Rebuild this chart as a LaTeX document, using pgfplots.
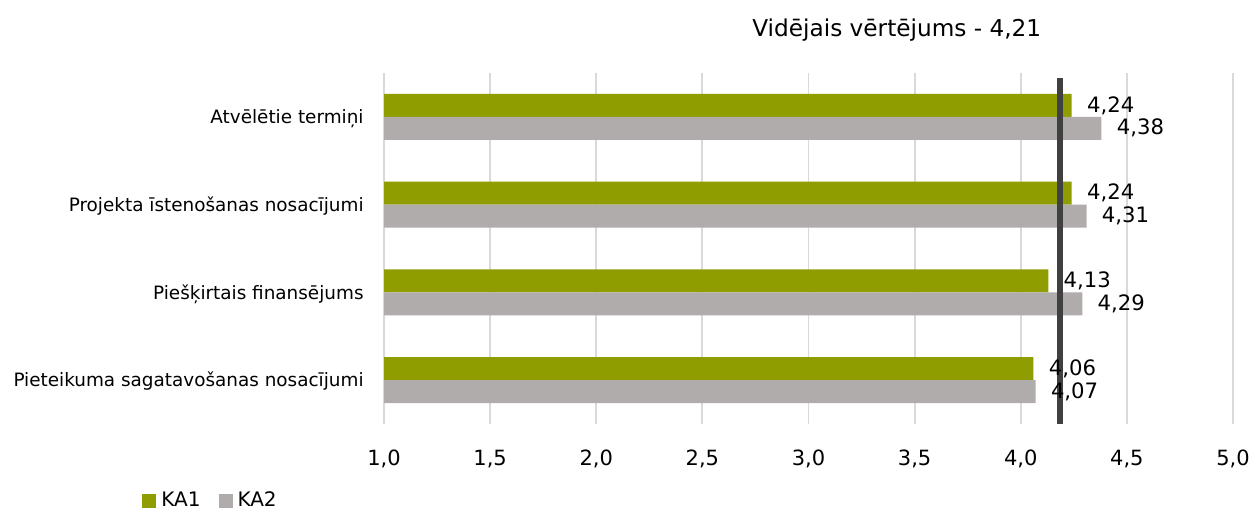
\documentclass[border=0pt]{standalone}
\usepackage{fontspec}
\setmainfont{DejaVu Sans}
\usepackage{pgfplots}
\pgfplotsset{compat=1.18}
\definecolor{kaone}{RGB}{143,157,0}
\definecolor{katwo}{RGB}{176,172,171}
\definecolor{avgline}{RGB}{64,64,64}
\definecolor{gridc}{RGB}{217,217,217}
\pgfplotsset{
  mybar/.style={
    xbar, draw=none, bar width=0.2614,
    point meta=x,
    nodes near coords={\pgfmathprintnumber[fixed,fixed zerofill,precision=2,use comma]{\pgfplotspointmeta}},
    nodes near coords style={font=\fontsize{10.6bp}{12bp}\selectfont, anchor=west, inner sep=0pt, xshift=7.5bp, yshift=#1, black},
  }
}
\begin{document}
\begin{tikzpicture}
\path[use as bounding box] (0,0) rectangle (625bp,256bp);
\begin{axis}[
  at={(192bp,44bp)}, anchor=south west,
  scale only axis, width=424.5bp, height=175.5bp,
  xmin=1, xmax=5, ymin=-0.5, ymax=3.5,
  axis line style={draw=none},
  major tick length=0pt,
  xtick={1,1.5,2,2.5,3,3.5,4,4.5,5},
  ytick={0,1,2,3},
  yticklabels={Pieteikuma sagatavošanas nosacījumi, Piešķirtais finansējums, Projekta īstenošanas nosacījumi, Atvēlētie termiņi},
  xmajorgrids, grid style={gridc, line width=0.9bp},
  scaled x ticks=false,
  /pgf/number format/assume math mode=true,
  xticklabel style={font=\fontsize{10.5bp}{12bp}\selectfont, anchor=base, yshift=-20.5bp, /pgf/number format/.cd, fixed, fixed zerofill, precision=1, use comma},
  yticklabel style={font=\fontsize{9.2bp}{11bp}\selectfont, anchor=base east, inner sep=0pt, xshift=-10bp, yshift=-3.35bp},
  title={Vidējais vērtējums - 4,21},
  title style={at={(0.604,1.1026)}, anchor=base, yshift=-6pt, font=\fontsize{11.6bp}{14bp}\selectfont, inner sep=0pt},
  legend style={at={(-0.2055,-0.219)}, anchor=center, draw=none, fill=none, legend columns=2,
    font=\fontsize{10bp}{12bp}\selectfont, inner sep=0pt,
    /tikz/every odd column/.append style={column sep=2.5bp},
    /tikz/every even column/.append style={column sep=9bp},
    nodes={inner sep=0pt}},
  legend image code/.code={\fill[#1] (0bp,-3.5bp) rectangle (7bp,3.5bp);},
]
\addplot[mybar=5.73bp, fill=kaone, bar shift=0.1307] coordinates {(4.06,0) (4.13,1) (4.24,2) (4.24,3)};
\addplot[mybar=-5.73bp, fill=katwo, bar shift=-0.1307] coordinates {(4.07,0) (4.29,1) (4.31,2) (4.38,3)};
\legend{KA1,KA2}
\addplot[avgline, line width=3bp, no marks, forget plot] coordinates {(4.185,-0.5) (4.185,3.44)};
\end{axis}
\end{tikzpicture}
\end{document}
